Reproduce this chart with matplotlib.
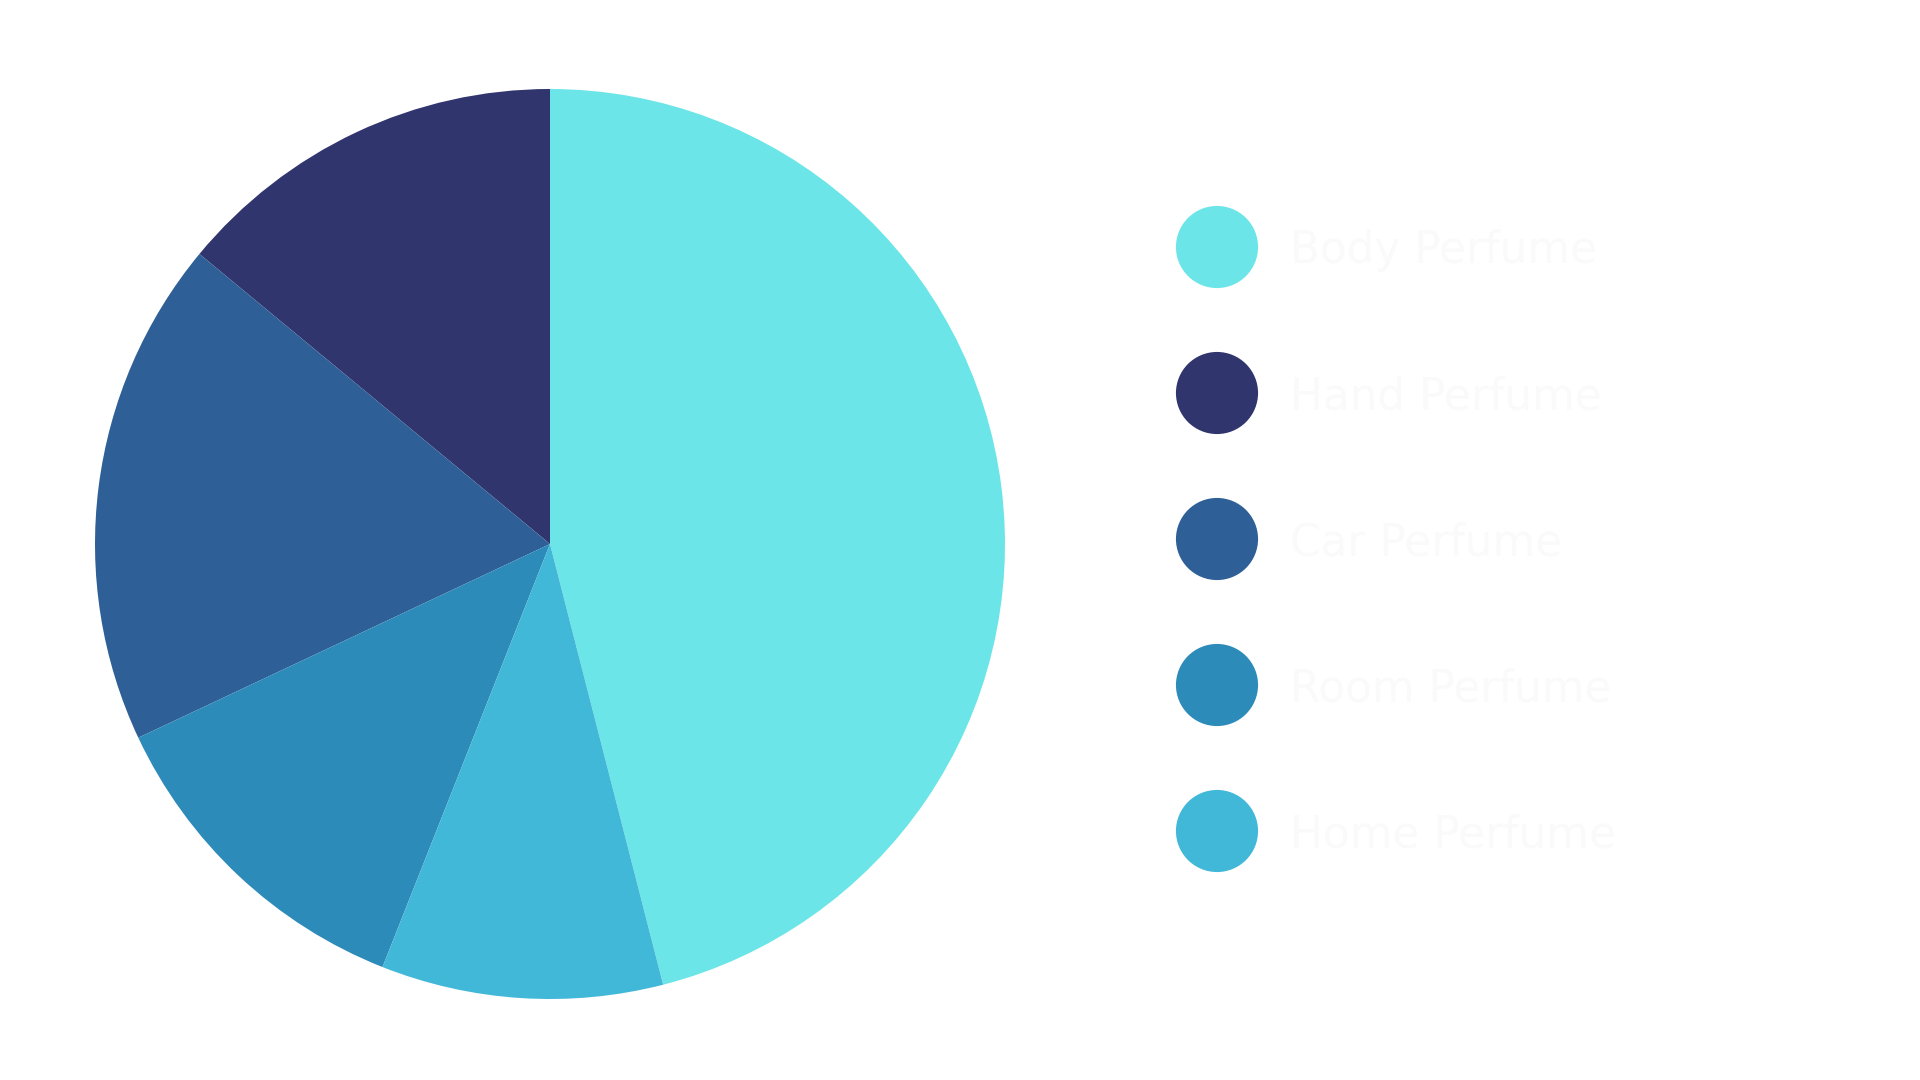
import matplotlib
matplotlib.use("Agg")
import matplotlib.pyplot as plt

# slice shares (percent)
labels = ["Body Perfume", "Hand Perfume", "Car Perfume", "Room Perfume", "Home Perfume"]
shares = [46, 14, 18, 12, 10]
colors = ["#6ce5e8", "#31356e", "#2e5f96", "#2d8bba", "#42b8d8"]

W, H = 1920, 1080
fig = plt.figure(figsize=(19.2, 10.8), dpi=100)
ax = fig.add_axes([0, 0, 1, 1])
ax.axis("off")

# first slice runs clockwise from 12 o'clock, the rest follow counter-clockwise
start = 90 - 360 * shares[0] / sum(shares)
wedges, _ = ax.pie(shares, colors=colors, startangle=start, counterclock=True,
                   center=(550, H - 544), radius=455,
                   wedgeprops=dict(linewidth=0))
ax.set_xlim(0, W)
ax.set_ylim(0, H)
ax.set_aspect("equal")

# legend, drawn by hand
for i, (lab, col) in enumerate(zip(labels, colors)):
    y = H - (247 + i * 146)
    ax.scatter([1217], [y], s=82 ** 2 * 0.52, color=col, edgecolors="none")
    ax.text(1290, y - 4, lab, color="#fafafa", fontsize=31.5, va="center", ha="left",
            family="DejaVu Sans")

fig.savefig("out.png", dpi=100)
